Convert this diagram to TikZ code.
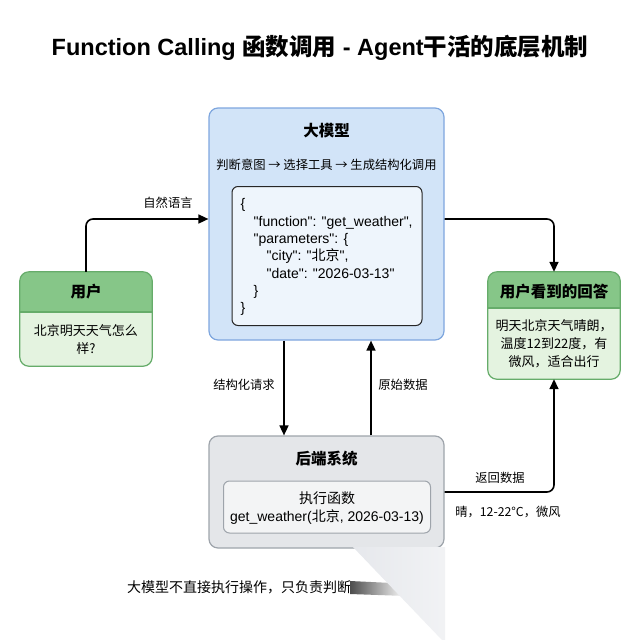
\documentclass[tikz,border=0pt]{standalone}
\usepackage{fontspec}
\setmainfont{Liberation Sans}
\newfontfamily\codefont{Liberation Sans}
\newfontfamily\cjk{Noto Sans CJK SC}
\usetikzlibrary{arrows.meta}
\definecolor{bluefill}{RGB}{210,228,248}
\definecolor{blueline}{RGB}{126,166,222}
\definecolor{codefill}{RGB}{238,245,252}
\definecolor{greenhead}{RGB}{134,198,136}
\definecolor{greenbody}{RGB}{228,243,224}
\definecolor{greenline}{RGB}{102,172,106}
\definecolor{grayfill}{RGB}{228,230,233}
\definecolor{grayline}{RGB}{158,164,171}
\definecolor{grayinner}{RGB}{243,244,245}
\definecolor{curlgray}{RGB}{230,232,236}
\tikzset{
  conn/.style={line width=1.6pt, draw=black, rounded corners=7, -{Triangle[length=10pt,width=9pt]}},
  boxtitle/.style={font=\cjk\bfseries\fontsize{15.5}{18}\selectfont, inner sep=0},
  lbl/.style={font=\cjk\fontsize{12.3}{15}\selectfont, inner sep=0},
  body/.style={font=\cjk\fontsize{13}{18}\selectfont, align=center, inner sep=0},
  bigbox/.style={rounded corners=9, line width=1.2pt},
}
\begin{document}
\begin{tikzpicture}[x=1pt,y=-1pt]
\useasboundingbox (0,0) rectangle (640,640);
% title
\node[font=\bfseries\fontsize{23.5}{26}\selectfont, inner sep=0] (title) at (320,48)
  {Function Calling {\cjk 函数调用} - Agent{\cjk 干活的底层机制}};
% LLM box
\node[bigbox, draw=blueline, fill=bluefill, minimum width=235, minimum height=232] (llm) at (326.5,224) {};
\node[boxtitle] (llmt) at (326.5,131) {\cjk 大模型};
\node[lbl] (llms) at (326.5,165) {判断意图 → 选择工具 → 生成结构化调用};
\node[rounded corners=6, draw=black!85, line width=1pt, fill=codefill, minimum width=190, minimum height=139] (codebox) at (327,256) {};
\node[anchor=north west, align=left, inner sep=0, font=\codefont\fontsize{14}{17.3}\selectfont] (code) at (240.5,198.5)
  {\{\\
   \hspace{13pt}"function": "get\_weather",\\
   \hspace{13pt}"parameters": \{\\
   \hspace{26pt}"city": "{\cjk 北京}",\\
   \hspace{26pt}"date": "2026-03-13"\\
   \hspace{13pt}\}\\
   \}};
% user box
\node[rounded corners=9, fill=greenbody, minimum width=132, minimum height=94] (user) at (86,319) {};
\fill[greenhead] (20,312) [rounded corners=9] -- (20,272) -- (152,272) [sharp corners] -- (152,312) -- cycle;
\draw[greenline, line width=1.2pt] (20,312) -- (152,312);
\draw[greenline, line width=1.2pt, rounded corners=9] (user.north west) rectangle (user.south east);
\node[boxtitle] (usert) at (86,292) {\cjk 用户};
\node[body] (userb) at (86,339.5) {北京明天天气怎么\\样?};
% answer box
\node[rounded corners=9, fill=greenbody, minimum width=132, minimum height=107] (answer) at (554,325.5) {};
\fill[greenhead] (488,308) [rounded corners=9] -- (488,272) -- (620,272) [sharp corners] -- (620,308) -- cycle;
\draw[greenline, line width=1.2pt] (488,308) -- (620,308);
\draw[greenline, line width=1.2pt, rounded corners=9] (answer.north west) rectangle (answer.south east);
\node[boxtitle] (answert) at (554,292) {\cjk 用户看到的回答};
\node[body] (answerb) at (554,343.5) {明天北京天气晴朗，\\温度12到22度，有\\微风，适合出行};
% backend box
\node[bigbox, draw=grayline, fill=grayfill, minimum width=235, minimum height=112] (backend) at (326.5,492) {};
\node[boxtitle] (backendt) at (326.5,459) {\cjk 后端系统};
\node[rounded corners=6, draw=grayline, line width=1pt, fill=grayinner, minimum width=207, minimum height=52] (exec) at (327,507) {};
\node[font=\fontsize{14}{18.5}\selectfont, align=center, inner sep=0] (exect) at (327,508) {{\cjk 执行函数}\\get\_weather({\cjk 北京}, 2026-03-13)};
% connectors
\draw[conn] (user.north) |- ([yshift=5pt]llm.west);
\draw[conn] ([yshift=5pt]llm.east) -| (answer.north);
\draw[conn] ([xshift=-42.5pt]llm.south) -- ([xshift=-42.5pt]backend.north);
\draw[conn] ([xshift=44.5pt]backend.north) -- ([xshift=44.5pt]llm.south);
\draw[conn] (backend.east) -| (answer.south);
% labels
\node[lbl] (l1) at (168,203) {自然语言};
\node[lbl] (l2) at (244,385) {结构化请求};
\node[lbl] (l3) at (403,385) {原始数据};
\node[lbl] (l4) at (500,478) {返回数据};
\node[lbl] (l5) at (508,512) {晴，12-22°C，微风};
% footer
\node[font=\cjk\fontsize{14}{16}\selectfont, anchor=west, inner sep=0] (foot) at (127,587) {大模型不直接执行操作，只负责判断};
% page curl
\fill[white] (352,548.5) -- (448,548.5) -- (448,640) -- (352,640) -- cycle;
\shade[left color=black!70, right color=white] (350,581) -- (392,583) -- (406,596) -- (350,594) -- cycle;
\shade[left color=curlgray, right color=curlgray!55] (353,547) -- (445,547) -- (445,640) -- (442,640) -- cycle;
\end{tikzpicture}
\end{document}
